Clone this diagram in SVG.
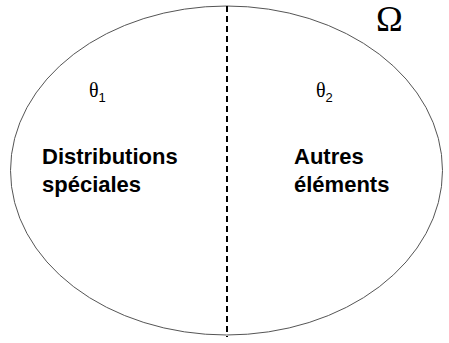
<svg xmlns="http://www.w3.org/2000/svg" width="449" height="343" viewBox="0 0 449 343">
  <style>
    .label { font-family: "Liberation Sans", Arial, sans-serif; font-weight: bold; font-size: 22px; fill: #000; }
    .theta { font-family: "Liberation Serif", "Times New Roman", serif; font-size: 20px; fill: #000; }
    .sub { font-family: "Liberation Sans", Arial, sans-serif; font-size: 13px; }
    .omega { font-family: "Liberation Serif", "Times New Roman", serif; font-size: 36px; fill: #000; }
  </style>
  <rect width="449" height="343" fill="#fff"/>

  <!-- universe set -->
  <g id="omega">
    <ellipse cx="226.5" cy="170.5" rx="216" ry="164.5" fill="none" stroke="#555" stroke-width="1"/>
    <text class="omega" x="376" y="31">Ω</text>
  </g>

  <!-- partition line -->
  <g id="connectors">
    <line x1="227" y1="6" x2="227" y2="337" stroke="#000" stroke-width="2" stroke-dasharray="6 4"/>
  </g>

  <g id="theta1">
    <text class="theta" x="89" y="97">θ<tspan class="sub" dy="5">1</tspan></text>
    <text class="label" x="42" y="164">Distributions</text>
    <text class="label" x="42" y="192">spéciales</text>
  </g>

  <g id="theta2">
    <text class="theta" x="316" y="97">θ<tspan class="sub" dy="5">2</tspan></text>
    <text class="label" x="294" y="164">Autres</text>
    <text class="label" x="294" y="192">éléments</text>
  </g>
</svg>
